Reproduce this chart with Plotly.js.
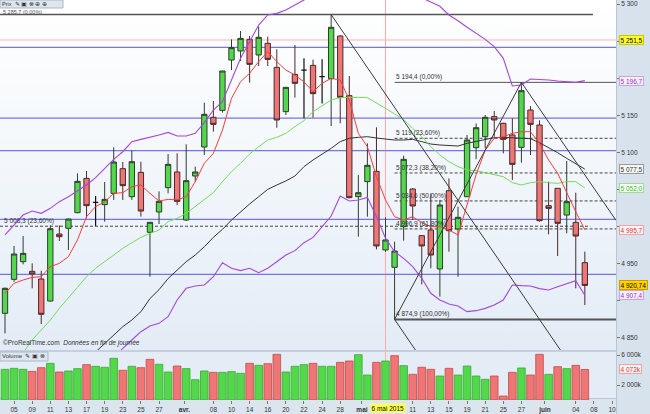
<!DOCTYPE html>
<html><head><meta charset="utf-8">
<script src="https://cdn.plot.ly/plotly-3.0.1.min.js"></script>
<style>
html,body{margin:0;padding:0;}
#wrap{position:relative;width:650px;height:414px;overflow:hidden;background:#dfe8f0;}
.bg{position:absolute;}
#bgMain{left:0;top:0;width:616px;height:350px;background:linear-gradient(to bottom,#ffffff 0%,#f3f7fb 45%,#e3ecf6 100%);}
#bgSep{left:0;top:350px;width:616px;height:2px;background:#c3d1de;}
#bgVol{left:0;top:352px;width:616px;height:46px;background:#e4edf6;}
#bgRight{left:616px;top:0;width:34px;height:414px;background:#d7e2ec;border-left:1px solid #b9c7d4;box-sizing:border-box;}
#bgBottom{left:0;top:398px;width:616px;height:16px;background:#dbe5ee;border-top:1px solid #b9c7d4;box-sizing:border-box;}
#chart{position:absolute;left:0;top:0;width:650px;height:414px;}
</style></head>
<body><div id="wrap">
<div class="bg" id="bgMain"></div><div class="bg" id="bgSep"></div><div class="bg" id="bgVol"></div>
<div class="bg" id="bgRight"></div><div class="bg" id="bgBottom"></div>
<div id="chart"></div></div>
<script>
// ---- data (CAC 40, daily, 4 mars - 5 juin 2015) ----
const sessions = ['04/03','05/03','06/03','09/03','10/03','11/03','12/03','13/03','16/03','17/03','18/03','19/03','20/03','23/03','24/03','25/03','26/03','27/03','30/03','31/03','01/04','02/04','07/04','08/04','09/04','10/04','13/04','14/04','15/04','16/04','17/04','20/04','21/04','22/04','23/04','24/04','27/04','28/04','29/04','30/04','04/05','05/05','06/05','07/05','08/05','11/05','12/05','13/05','14/05','15/05','18/05','19/05','20/05','21/05','22/05','25/05','26/05','27/05','28/05','29/05','01/06','02/06','03/06','04/06','05/06'];
const openP  = [4883.1,4928.9,4952.7,4939.7,4929.4,4899.7,4990.0,4997.7,5018.8,5065.0,5032.7,5029.6,5044.8,5078.1,5040.3,5073.1,4992.3,5019.7,5052.5,5073.6,5008.9,5068.2,5107.3,5147.3,5156.7,5224.5,5236.7,5252.4,5231.3,5247.0,5214.6,5154.9,5205.2,5211.0,5217.3,5202.0,5199.4,5256.9,5176.5,5040.3,5060.6,5074.5,4968.5,4945.1,4999.9,5050.7,4987.8,4995.4,4942.9,5048.4,4996.8,5040.3,5106.4,5121.2,5148.2,5139.2,5123.5,5106.8,5157.1,5136.9,5028.2,5051.6,5015.6,5005.7,4951.4];
const highP  = [4918.0,4973.9,4987.3,4950.5,4940.6,5001.7,5001.7,5011.0,5071.8,5075.0,5041.2,5060.1,5106.8,5087.0,5102.8,5087.5,5005.8,5047.5,5097.8,5098.7,5110.9,5080.8,5167.0,5169.3,5209.7,5252.4,5263.6,5257.0,5269.5,5256.0,5238.9,5187.7,5244.7,5226.8,5225.0,5225.4,5285.7,5258.0,5203.0,5069.5,5112.2,5133.8,5012.5,4979.7,5095.6,5051.6,4988.7,5044.8,5036.0,5065.0,5026.9,5123.5,5139.0,5150.4,5155.8,5140.0,5145.9,5194.4,5162.5,5143.2,5060.6,5051.6,5088.4,5045.7,4966.2];
const lowP   = [4856.2,4925.8,4949.1,4916.8,4868.7,4899.0,4980.6,4968.5,5018.0,5011.1,5000.8,5006.7,5036.0,5036.0,5036.0,5013.4,4932.5,5003.5,5044.8,5029.0,5007.5,5060.6,5096.5,5128.0,5153.6,5211.0,5223.2,5194.0,5216.4,5216.4,5133.3,5150.4,5173.8,5145.9,5146.8,5166.0,5135.6,5139.2,5038.0,4986.4,5013.4,4969.4,4966.0,4874.9,4981.1,5008.9,4922.2,4943.8,4905.6,4966.2,4932.5,5040.0,5090.7,5105.5,5121.0,5098.7,5062.8,5086.2,5096.5,5006.7,4989.6,4960.4,4991.0,4916.8,4894.3];
const closeP = [4916.8,4963.1,4963.9,4936.1,4881.8,4997.2,4986.4,5010.2,5061.0,5028.2,5032.7,5036.7,5087.1,5055.2,5087.5,5021.0,5005.8,5034.1,5083.9,5034.0,5061.9,5073.6,5151.3,5137.8,5209.7,5241.2,5253.7,5218.7,5255.1,5225.4,5143.7,5187.7,5193.1,5211.0,5179.2,5202.0,5268.6,5174.2,5039.0,5045.7,5082.6,4973.9,4982.0,4967.1,5090.7,5027.8,4973.9,4961.7,5029.1,4994.5,5012.5,5116.7,5133.3,5147.3,5143.7,5117.6,5083.9,5183.2,5137.8,5008.0,5024.6,5004.4,5033.6,4987.3,4920.74];
// volume, millions
const volumeM = [4.09,4.22,4.09,3.82,4.31,4.89,3.73,3.87,4.18,4.71,4.49,4.36,5.56,3.96,4.49,4.31,5.42,4.76,3.73,4.53,4.18,2.71,3.87,3.69,3.69,3.78,3.56,4.89,4.62,4.84,6.09,3.73,4.49,4.71,4.89,4.49,4.49,5.02,5.20,6.04,3.33,5.02,5.20,5.91,4.58,3.42,4.36,4.09,3.20,4.22,3.33,4.53,3.20,2.76,3.20,0.53,3.69,4.27,3.33,6.09,3.42,4.44,4.18,4.62,4.07];
// indicator lines
const maShort = [4910,4923.6,4928,4931.6,4932.5,4946,4950.5,4959.5,4982,5013.4,5026.9,5033.6,5044.8,5045.7,5053.8,5056.1,5044.8,5034.5,5036.7,5036,5040.3,5060.6,5085.3,5098.7,5130,5172.9,5195.3,5206.6,5222.3,5235.8,5222.3,5211,5204.3,5195,5181.9,5193.1,5199.8,5197.6,5170.6,5125.7,5107.7,5067.3,5035.9,5013.4,5008.9,5013.4,5005.3,5000,5000,4995.4,4988.7,5029,5070,5103,5119,5121.2,5125.7,5127.9,5127.9,5112.2,5089.8,5071.8,5044.8,5020.1,4995.7];
const maMid = [null,null,4830,4847.2,4860.6,4874.1,4889.8,4903.3,4918.2,4932.5,4943.8,4952.7,4961.7,4970.7,4978.3,4985.5,4990.9,4995.4,5006.7,5011.1,5017.9,5026.9,5035.8,5045.7,5060.6,5074,5085.3,5097.8,5107.7,5116.7,5120.3,5125.7,5134.7,5142.8,5154.9,5162.5,5170.6,5173.8,5174.2,5174.2,5173.8,5167,5159.4,5151.8,5144.6,5132.4,5121.2,5107.7,5096.5,5087.5,5080.8,5076.3,5075.4,5072.7,5069.5,5067.3,5059.2,5056.1,5059.2,5060.6,5059.2,5058.3,5060.6,5060.6,5052.0];
const maLong = [null,null,null,null,null,null,null,null,null,null,4831,4842.7,4853.9,4865.1,4874.1,4885.3,4903,4915,4930,4941.5,4952.7,4961.7,4972.9,4985.5,4996.3,5008.9,5020.1,5030.5,5040.3,5050.2,5056.1,5061.5,5068.2,5080.8,5089.8,5097.4,5105.5,5114.5,5119,5120.3,5121.2,5119.4,5117.6,5116.7,5116.7,5117.6,5114.5,5111.3,5110,5109.1,5108.6,5112.2,5114.5,5117.6,5119.9,5120.3,5119.9,5119.9,5118.5,5113.1,5106.8,5099.6,5092,5084.4,5077.5];
const bbUpper = [4988.7,5002.2,5015.6,5021,5017.9,5024.6,5033.6,5040.3,5048.4,5056.1,5066,5078.5,5090.7,5100.9,5114.5,5117.6,5120.3,5123.5,5127,5122.1,5122.1,5125.7,5140.1,5157.1,5168.4,5197.6,5226.8,5249.2,5271.7,5285.2,5287.4,5291.9,5298.7,5305.4,5315,5325,5340,5350,5355,5350,5345,5340,5335,5328,5320,5314,5308,5302,5297,5285.2,5277.5,5268.6,5260.5,5252.4,5242.5,5226.8,5189.5,5190.8,5198.9,5198.5,5197.6,5196.2,5195.3,5194.4,5196.7];
const bbLower = [null,null,null,null,null,null,null,null,null,null,null,null,4822,4836,4847.2,4858.4,4866,4869.6,4878.6,4901.1,4916.8,4919.9,4921.3,4932.5,4951.4,4943.8,4940.7,4943.8,4937.9,4943.8,4952.7,4961.7,4967.6,4978.3,4985.5,4999.9,5014.3,5041.2,5034.5,5035.8,5039.4,5013.4,4984.2,4966.2,4957.2,4946,4930.3,4910.1,4901.1,4895.7,4893,4885.4,4886.7,4889.8,4894.3,4901.1,4921.3,4920.4,4919.9,4916.4,4914.6,4919,4922.6,4927.1,4907.4];
// axis labels
const tickIdx  = [1,3,5,7,9,11,13,15,17,19.8,23,25,27,29,31,33,35,37,39.4,45,47,49,51,53,55,57,59.6,63,65,67];
const tickText = ['05','09','11','13','17','19','23','25','27','<b>avr.</b>','08','10','14','16','20','22','24','28','<b>mai</b>','11','13','15','19','21','25','27','<b>juin</b>','04','08','10'];
const priceTicks = [4850,4900,4950,5000,5050,5100,5150,5200,5250,5300];
const priceTickText = ['4 850','','4 950','','','5 100','5 150','','','5 300'];
// drawn levels & lines
const blueLevels = [5241.6,5146.2,5102.3,5009.8,4935.7];
const pinkLevel = 5251.5;
const fibLevels = [5194.4,5119.0,5072.3,5034.6,4996.9,4874.9];
const fibLabels = ['5 194,4 (0,00%)','5 119 (23,60%)','5 072,3 (38,20%)','5 034,6 (50,00%)','4 996,9 (61,80%)','4 874,9 (100,00%)'];
const fibStart = 43;
const topLevel = 5285.7, topLabel = '5 285,7 (0,00%)';
const leftFib = 5000.5, leftFibLabel = '5 008,3 (23,60%)';
const trendLines = [[36,5285.7,61.3,4833.7],[43,4874.9,57,5194.4],[43,4874.9,45.3,4833.7],[57,5194.4,67.44,5008.4]];
const cursorIdx = 42, cursorLabel = '6 mai 2015';
const tags = [
 {v:5251.5,t:'5 251,5',bg:'#ffff22',fg:'#000',bd:'#c8c800'},
 {v:5196.7,t:'5 196,7',bg:'#f5effb',fg:'#9a33cc',bd:'#c8a4e4'},
 {v:5077.5,t:'5 077,5',bg:'#f6f6f6',fg:'#333',bd:'#9a9a9a'},
 {v:5052.0,t:'5 052,0',bg:'#f1fbf0',fg:'#3fbf2a',bd:'#a4dc94'},
 {v:4995.7,t:'4 995,7',bg:'#fff3f3',fg:'#ee2e2e',bd:'#f2a2a2'},
 {v:4920.74,t:'4 920,74',bg:'#ffd200',fg:'#000',bd:'#c9a000'},
 {v:4907.4,t:'4 907,4',bg:'#f5effb',fg:'#9a33cc',bd:'#c8a4e4'}
];

// ---- build ----
const X = sessions.map((_,i)=>i);
const FONT = 'Liberation Sans, Arial, sans-serif';
const PW = 616, PH = 400;
const normal = X.filter(i=>openP[i]!==closeP[i]);
const doji = X.filter(i=>openP[i]===closeP[i]);
const pick = (arr,idx)=>idx.map(i=>arr[i]);
const UP='#52d84a', DN='#f07575';

const traces = [];
traces.push({type:'candlestick',x:normal,open:pick(openP,normal),high:pick(highP,normal),low:pick(lowP,normal),close:pick(closeP,normal),
  text:pick(sessions,normal),xaxis:'x',yaxis:'y',whiskerwidth:0,
  increasing:{line:{color:'#2e3d2e',width:1},fillcolor:UP},
  decreasing:{line:{color:'#4a2a2a',width:1},fillcolor:DN},hoverinfo:'text+y'});
traces.push({type:'candlestick',x:doji,open:pick(openP,doji),high:pick(highP,doji),low:pick(lowP,doji),close:pick(closeP,doji),
  xaxis:'x',yaxis:'y',whiskerwidth:0,
  increasing:{line:{color:'#111',width:1.2},fillcolor:'#111'},
  decreasing:{line:{color:'#111',width:1.2},fillcolor:'#111'}});
const line=(y,c,w)=>({type:'scatter',mode:'lines',x:X,y:y,xaxis:'x',yaxis:'y',line:{color:c,width:w},hoverinfo:'skip',connectgaps:false});
traces.push(line(bbUpper,'#a546e6',1.1));
traces.push(line(bbLower,'#a546e6',1.1));
traces.push(line(maLong,'#333333',1));
traces.push(line(maMid,'#74dd55',1));
traces.push(line(maShort,'#ff3a3a',1));
const volCol = closeP.map((c,i)=> i===0 || c>=closeP[i-1] ? UP : DN);
const volLine = closeP.map((c,i)=> i===0 || c>=closeP[i-1] ? '#39a833' : '#c04a4a');
traces.push({type:'bar',x:X,y:volumeM,xaxis:'x',yaxis:'y2',marker:{color:volCol,line:{color:volLine,width:0.8}},hoverinfo:'y'});

const shapes = [];
const X0 = -0.552, X1 = 67.44;
blueLevels.forEach(v=>shapes.push({type:'line',xref:'x',yref:'y',x0:X0,x1:X1,y0:v,y1:v,line:{color:'#7474ee',width:1.3},layer:'below'}));
shapes.push({type:'line',xref:'x',yref:'y',x0:X0,x1:X1,y0:pinkLevel,y1:pinkLevel,line:{color:'#ffb4b4',width:1},layer:'below'});
shapes.push({type:'line',xref:'x',yref:'y',x0:X0,x1:64.9,y0:topLevel,y1:topLevel,line:{color:'#555',width:1.5},layer:'below'});
shapes.push({type:'line',xref:'x',yref:'y',x0:X0,x1:64.6,y0:leftFib,y1:leftFib,line:{color:'#444',width:1,dash:'3px,2px'},layer:'below'});
fibLevels.forEach((v,k)=>{
  const solid = (k===0||k===fibLevels.length-1);
  shapes.push({type:'line',xref:'x',yref:'y',x0:fibStart,x1:X1,y0:v,y1:v,
    line:{color:solid?'#555':'#444',width:k===fibLevels.length-1?2:1,dash:solid?'solid':'3px,2px'},layer:'below'});
});
trendLines.forEach(t=>shapes.push({type:'line',xref:'x',yref:'y',x0:t[0],y0:t[1],x1:t[2],y1:t[3],line:{color:'#3a3a3a',width:1}}));
shapes.push({type:'line',xref:'x',yref:'paper',x0:cursorIdx,x1:cursorIdx,y0:0,y1:1,line:{color:'#ffaaaa',width:1},layer:'below'});
// toolbar boxes (headers of the two panels)
shapes.push({type:'rect',xref:'paper',yref:'paper',x0:0,x1:63/PW,y0:1-8/PH,y1:1,fillcolor:'#dde6ef',line:{color:'#aab7c4',width:1},layer:'above'});
shapes.push({type:'rect',xref:'paper',yref:'paper',x0:0,x1:48/PW,y0:(PH-361)/PH,y1:(PH-352)/PH,fillcolor:'#dde6ef',line:{color:'#aab7c4',width:1},layer:'above'});

const ann = [];
const fs = 6.5;
fibLevels.forEach((v,k)=>ann.push({xref:'x',yref:'y',x:fibStart,y:v,text:fibLabels[k],showarrow:false,xanchor:'left',yanchor:'bottom',xshift:-0.5,yshift:-1,font:{family:FONT,size:fs,color:'#333'}}));
ann.push({xref:'paper',yref:'y',x:2/PW,y:topLevel,text:topLabel,showarrow:false,xanchor:'left',yanchor:'bottom',yshift:-1,borderpad:0,font:{family:FONT,size:5.5,color:'#555'}});
ann.push({xref:'paper',yref:'y',x:2/PW,y:leftFib,text:leftFibLabel,showarrow:false,xanchor:'left',yanchor:'bottom',yshift:-1,font:{family:FONT,size:fs,color:'#333'}});
// toolbar header texts
ann.push({xref:'paper',yref:'paper',x:1/PW,y:1,text:'Prix  ✎ ▣ ⊗ ⊕ ⊕',showarrow:false,xanchor:'left',yanchor:'top',borderpad:0,font:{family:FONT,size:5.5,color:'#333'}});
ann.push({xref:'paper',yref:'paper',x:1/PW,y:(PH-352)/PH,text:'Volume  ✎ ▣ ⊗',showarrow:false,xanchor:'left',yanchor:'top',borderpad:0,font:{family:FONT,size:6,color:'#333'}});
ann.push({xref:'paper',yref:'paper',x:1/PW,y:(PH-349)/PH,text:'©ProRealTime.com  <i>Données en fin de journée</i>',showarrow:false,xanchor:'left',yanchor:'bottom',font:{family:FONT,size:fs,color:'#333'}});
// right tags
tags.forEach(g=>ann.push({xref:'paper',yref:'y',x:1+3/PW,y:g.v,text:g.t,showarrow:false,xanchor:'left',yanchor:'middle',bgcolor:g.bg,bordercolor:g.bd,borderwidth:1,borderpad:0.5,font:{family:FONT,size:fs,color:g.fg}}));
ann.push({xref:'paper',yref:'y2',x:1+3/PW,y:volumeM[volumeM.length-1],text:'4 072k',showarrow:false,xanchor:'left',yanchor:'middle',bgcolor:'#fff3f3',bordercolor:'#f2a2a2',borderwidth:1,borderpad:0.5,font:{family:FONT,size:fs,color:'#ee2e2e'}});
ann.push({xref:'x',yref:'paper',x:cursorIdx+0.3,y:-8/PH,text:cursorLabel,showarrow:false,xanchor:'center',yanchor:'middle',bgcolor:'#ffff55',borderpad:0.5,font:{family:FONT,size:fs,color:'#000'}});

const layout = {
  width:650,height:414,margin:{l:0,r:34,t:0,b:14,pad:0},
  paper_bgcolor:'rgba(0,0,0,0)',plot_bgcolor:'rgba(0,0,0,0)',
  showlegend:false,boxgap:0.16,bargap:0.16,dragmode:false,
  font:{family:FONT,size:fs,color:'#333'},
  xaxis:{range:[X0,X1],tickvals:tickIdx,ticktext:tickText,ticks:'outside',ticklen:3,tickcolor:'#777',showgrid:false,zeroline:false,
    rangeslider:{visible:false},anchor:'y2',fixedrange:true,tickfont:{family:FONT,size:fs,color:'#333'}},
  yaxis:{domain:[(PH-350)/PH,1],range:[4833.7,5305.4],side:'right',tickvals:priceTicks,ticktext:priceTickText,ticks:'outside',ticklen:3,tickcolor:'#777',
    showgrid:false,zeroline:false,fixedrange:true,tickfont:{family:FONT,size:fs,color:'#333'}},
  yaxis2:{domain:[0,(PH-352)/PH],range:[0,6.4],side:'right',tickvals:[2,6],ticktext:['2 000k','6 000k'],ticks:'outside',ticklen:3,tickcolor:'#777',
    showgrid:false,zeroline:false,fixedrange:true,tickfont:{family:FONT,size:fs,color:'#333'}},
  shapes:shapes,annotations:ann
};
Plotly.newPlot('chart',traces,layout,{displayModeBar:false,staticPlot:true});
</script></body></html>
